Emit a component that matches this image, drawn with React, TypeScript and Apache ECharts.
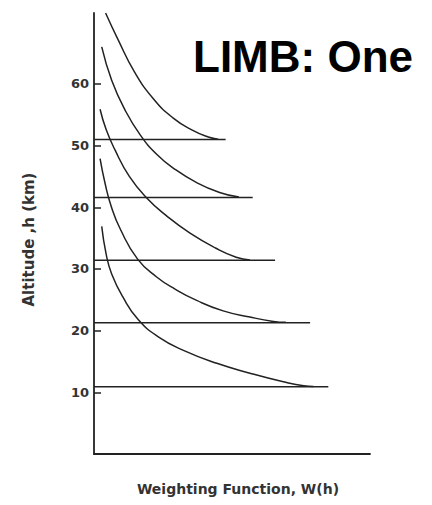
import React, { useEffect, useRef } from "react";
import * as echarts from "echarts";

// Altitude (km) at which each weighting function peaks, and how far its marker line runs
const peakAltitudes = [51.0, 41.6, 31.4, 21.3, 10.9];
const peakLineEnds = [47.7, 57.5, 65.6, 78.3, 84.9];

// Weighting function curves: [W(h), h]
const curve51: number[][] = [
  [4.2, 71.5], [8.8, 67.1], [14.6, 62.0], [21.5, 57.6], [28.6, 54.5],
  [35.6, 52.5], [41.4, 51.4], [45.0, 51.05],
];
const curve41: number[][] = [
  [2.8, 66.0], [6.4, 60.6], [11.2, 55.8], [16.8, 51.7], [22.7, 48.6],
  [29.2, 46.2], [37.2, 44.0], [45.5, 42.4], [52.5, 41.65],
];
const curve31: number[][] = [
  [2.2, 55.9], [4.4, 52.6], [7.6, 49.3], [12.8, 45.0], [19.1, 41.5],
  [26.3, 38.6], [34.8, 35.8], [44.0, 33.4], [51.5, 31.9], [56.5, 31.45],
];
const curve21: number[][] = [
  [2.2, 47.9], [4.0, 43.9], [6.2, 40.2], [9.6, 36.4], [15.8, 31.6],
  [22.7, 28.7], [29.5, 26.7], [37.2, 24.9], [46.8, 23.2], [56.5, 22.2],
  [65.0, 21.5], [69.5, 21.35],
];
const curve11: number[][] = [
  [2.8, 36.9], [4.4, 32.4], [6.4, 29.2], [10.4, 25.5], [16.0, 21.8],
  [23.3, 19.0], [32.4, 16.8], [44.5, 14.7], [56.5, 13.1], [68.6, 11.7],
  [76.0, 11.05], [79.5, 10.95],
];

const yTickValues = [10, 20, 30, 40, 50, 60];

const INK = "#222";

export default function App() {
  const ref = useRef<HTMLDivElement>(null);

  useEffect(() => {
    if (!ref.current) return;
    const chart = echarts.init(ref.current, null, { renderer: "svg" });

    const curves = [curve51, curve41, curve31, curve21, curve11];

    const curveSeries = curves.map((data, i) => ({
      name: `W${i + 1}`,
      type: "line",
      data,
      smooth: 0.5,
      symbol: "none",
      lineStyle: { color: INK, width: 1.5 },
      silent: true,
    }));

    const peakSeries = peakAltitudes.map((h, i) => ({
      name: `peak${i + 1}`,
      type: "line",
      data: [
        [0, h],
        [peakLineEnds[i], h],
      ],
      symbol: "none",
      lineStyle: { color: INK, width: 1.5 },
      silent: true,
    }));

    chart.setOption({
      animation: false,
      backgroundColor: "#fff",
      grid: { left: 94, right: 62, top: 13, bottom: 51 },
      xAxis: {
        type: "value",
        min: 0,
        max: 100,
        name: "Weighting Function, W(h)",
        nameLocation: "middle",
        nameGap: 28,
        nameTextStyle: {
          fontFamily: "DejaVu Sans",
          fontSize: 14,
          fontWeight: "bold",
          color: "#333",
          padding: [0, 0, 0, 12],
        },
        axisLine: { show: true, lineStyle: { color: INK, width: 1.8 } },
        axisTick: { show: false },
        axisLabel: { show: false },
        splitLine: { show: false },
      },
      yAxis: {
        type: "value",
        min: 0,
        max: 71.5,
        interval: 10,
        name: "Altitude ,h (km)",
        nameLocation: "middle",
        nameGap: 58,
        nameTextStyle: {
          fontFamily: "DejaVu Sans",
          fontSize: 15,
          fontWeight: "bold",
          color: "#333",
          padding: [0, 12, 0, 0],
        },
        axisLine: { show: true, lineStyle: { color: INK, width: 1.8 } },
        axisTick: {
          show: true,
          inside: true,
          length: 7,
          customValues: yTickValues,
          lineStyle: { color: INK, width: 1.5 },
        },
        axisLabel: {
          show: true,
          margin: 5,
          customValues: yTickValues,
          fontFamily: "DejaVu Sans",
          fontSize: 13,
          fontWeight: "bold",
          color: "#333",
        },
        splitLine: { show: false },
      },
      graphic: [
        {
          type: "text",
          left: 193,
          top: 34,
          style: {
            text: "LIMB: One",
            font: "bold 44px 'Liberation Sans', Arial, sans-serif",
            fill: "#000",
          },
        },
      ],
      series: [...curveSeries, ...peakSeries],
    });

    return () => chart.dispose();
  }, []);

  return (
    <div
      ref={ref}
      style={{ position: "fixed", left: 0, top: 0, width: 432, height: 505 }}
    />
  );
}
